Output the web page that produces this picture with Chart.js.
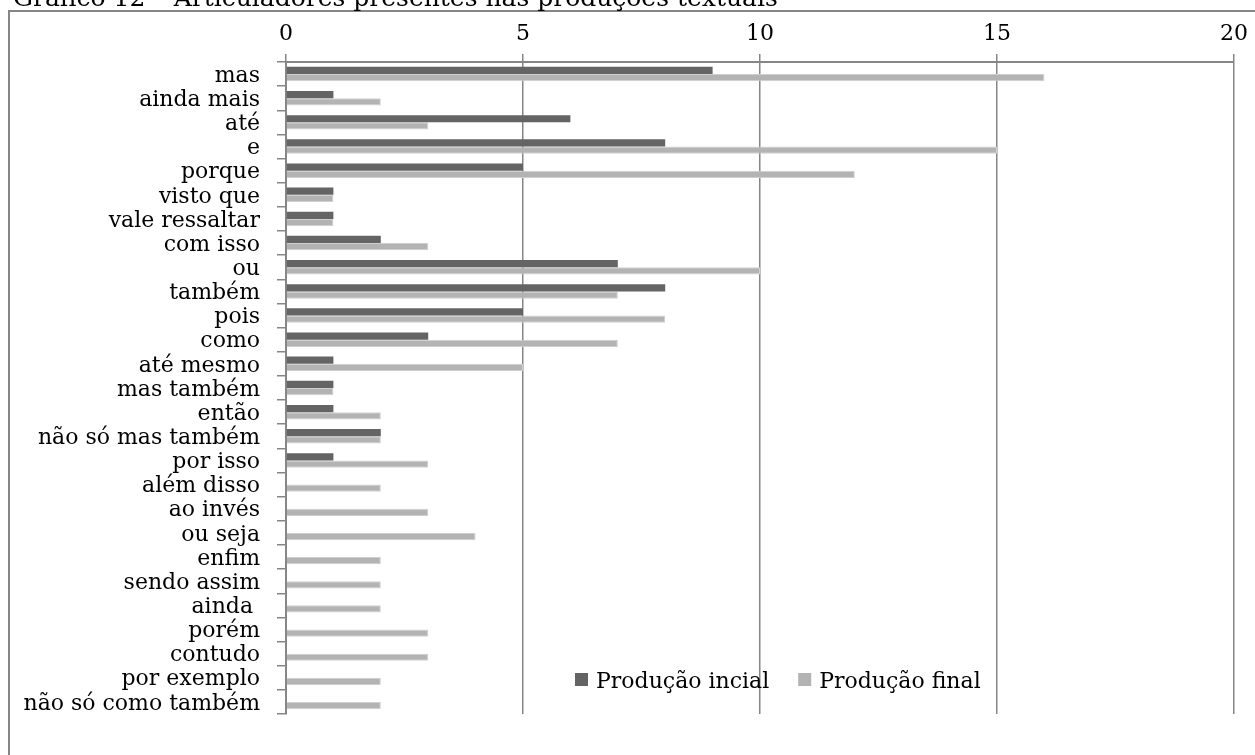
<!DOCTYPE html>
<html>
<head>
<meta charset="utf-8">
<script src="https://cdn.jsdelivr.net/npm/chart.js@4/dist/chart.umd.min.js"></script>
<style>
  html, body { margin: 0; padding: 0; background: #ffffff; overflow: hidden; }
  #wrap { position: relative; width: 1255px; height: 755px; }
</style>
</head>
<body>
<div id="wrap"><canvas id="chart" width="1255" height="755"></canvas></div>
<script>
const chartTitle = 'Gráfico 12 – Articuladores presentes nas produções textuais';

const categories = [
  'mas', 'ainda mais', 'até', 'e', 'porque', 'visto que', 'vale ressaltar',
  'com isso', 'ou', 'também', 'pois', 'como', 'até mesmo', 'mas também',
  'então', 'não só mas também', 'por isso', 'além disso', 'ao invés',
  'ou seja', 'enfim', 'sendo assim', 'ainda ', 'porém', 'contudo',
  'por exemplo', 'não só como também'
];

const producaoInicial = [9, 1, 6, 8, 5, 1, 1, 2, 7, 8, 5, 3, 1, 1, 1, 2, 1, 0, 0, 0, 0, 0, 0, 0, 0, 0, 0];
const producaoFinal   = [16, 2, 3, 15, 12, 1, 1, 3, 10, 7, 8, 7, 5, 1, 2, 2, 3, 2, 3, 4, 2, 2, 2, 3, 3, 2, 2];

const seriesNames = ['Produção incial', 'Produção final'];
const xTicks = [0, 5, 10, 15, 20];

const FONT = 'DejaVu Serif';
const LABEL_SIZE = 22;
const AXIS_GREY = '#868686';
const DARK = '#646464';
const LIGHT = '#b3b3b3';

// Outer frame and the page caption above it
const framePlugin = {
  id: 'frame',
  beforeDraw(chart) {
    const ctx = chart.ctx;
    ctx.save();
    ctx.fillStyle = '#ffffff';
    ctx.fillRect(0, 0, chart.width, chart.height);
    ctx.strokeStyle = AXIS_GREY;
    ctx.lineWidth = 2;
    ctx.beginPath();
    ctx.moveTo(9, chart.height + 2);
    ctx.lineTo(9, 11);
    ctx.lineTo(chart.width + 2, 11);
    ctx.stroke();
    ctx.fillStyle = '#000000';
    ctx.font = '25px "' + FONT + '"';
    ctx.textBaseline = 'alphabetic';
    ctx.textAlign = 'left';
    ctx.fillText(chartTitle, 13, 6);
    ctx.restore();
  }
};

// Legend drawn inside the plot area, lower middle
const innerLegend = {
  id: 'innerLegend',
  afterDatasetsDraw(chart) {
    const ctx = chart.ctx;
    const area = chart.chartArea;
    const box = 13;
    const top = area.bottom - 41;
    let x = area.left + 289;
    ctx.save();
    ctx.font = LABEL_SIZE + 'px "' + FONT + '"';
    ctx.textBaseline = 'alphabetic';
    ctx.textAlign = 'left';
    chart.data.datasets.forEach((ds) => {
      ctx.fillStyle = ds.backgroundColor;
      ctx.fillRect(x, top, box, box);
      ctx.fillStyle = '#000000';
      ctx.fillText(ds.label, x + box + 8, top + 15);
      x += box + 8 + ctx.measureText(ds.label).width + 29;
    });
    ctx.restore();
  }
};

new Chart(document.getElementById('chart'), {
  type: 'bar',
  data: {
    labels: categories,
    datasets: [
      {
        label: seriesNames[0],
        data: producaoInicial,
        backgroundColor: DARK,
        borderWidth: 0,
        categoryPercentage: 0.6,
        barPercentage: 1.0
      },
      {
        label: seriesNames[1],
        data: producaoFinal,
        backgroundColor: LIGHT,
        borderColor: '#cfcfcf',
        borderWidth: 1,
        categoryPercentage: 0.6,
        barPercentage: 1.0
      }
    ]
  },
  options: {
    indexAxis: 'y',
    responsive: false,
    animation: false,
    layout: { padding: { left: 0, top: 0, right: 17, bottom: 41 } },
    plugins: {
      legend: { display: false },
      title: { display: false },
      tooltip: { enabled: false }
    },
    scales: {
      x: {
        position: 'top',
        min: 0,
        max: 20,
        z: 1,
        afterBuildTicks(scale) { scale.ticks = xTicks.map(v => ({ value: v })); },
        afterFit(scale) { scale.height = 62; },
        grid: {
          color: AXIS_GREY,
          lineWidth: 1.5,
          tickLength: 8,
          drawOnChartArea: true,
          drawTicks: true
        },
        border: { display: true, color: AXIS_GREY, width: 2 },
        ticks: {
          color: '#000000',
          font: { family: FONT, size: LABEL_SIZE },
          padding: 7
        }
      },
      y: {
        type: 'category',
        offset: true,
        z: 1,
        afterFit(scale) { scale.width = 286; },
        grid: {
          offset: true,
          drawOnChartArea: false,
          drawTicks: true,
          tickLength: 9,
          color: AXIS_GREY,
          lineWidth: 1.5
        },
        border: { display: true, color: AXIS_GREY, width: 2 },
        ticks: {
          color: '#000000',
          font: { family: FONT, size: LABEL_SIZE },
          padding: 17,
          labelOffset: 2,
          autoSkip: false
        }
      }
    }
  },
  plugins: [framePlugin, innerLegend]
});
</script>
</body>
</html>
